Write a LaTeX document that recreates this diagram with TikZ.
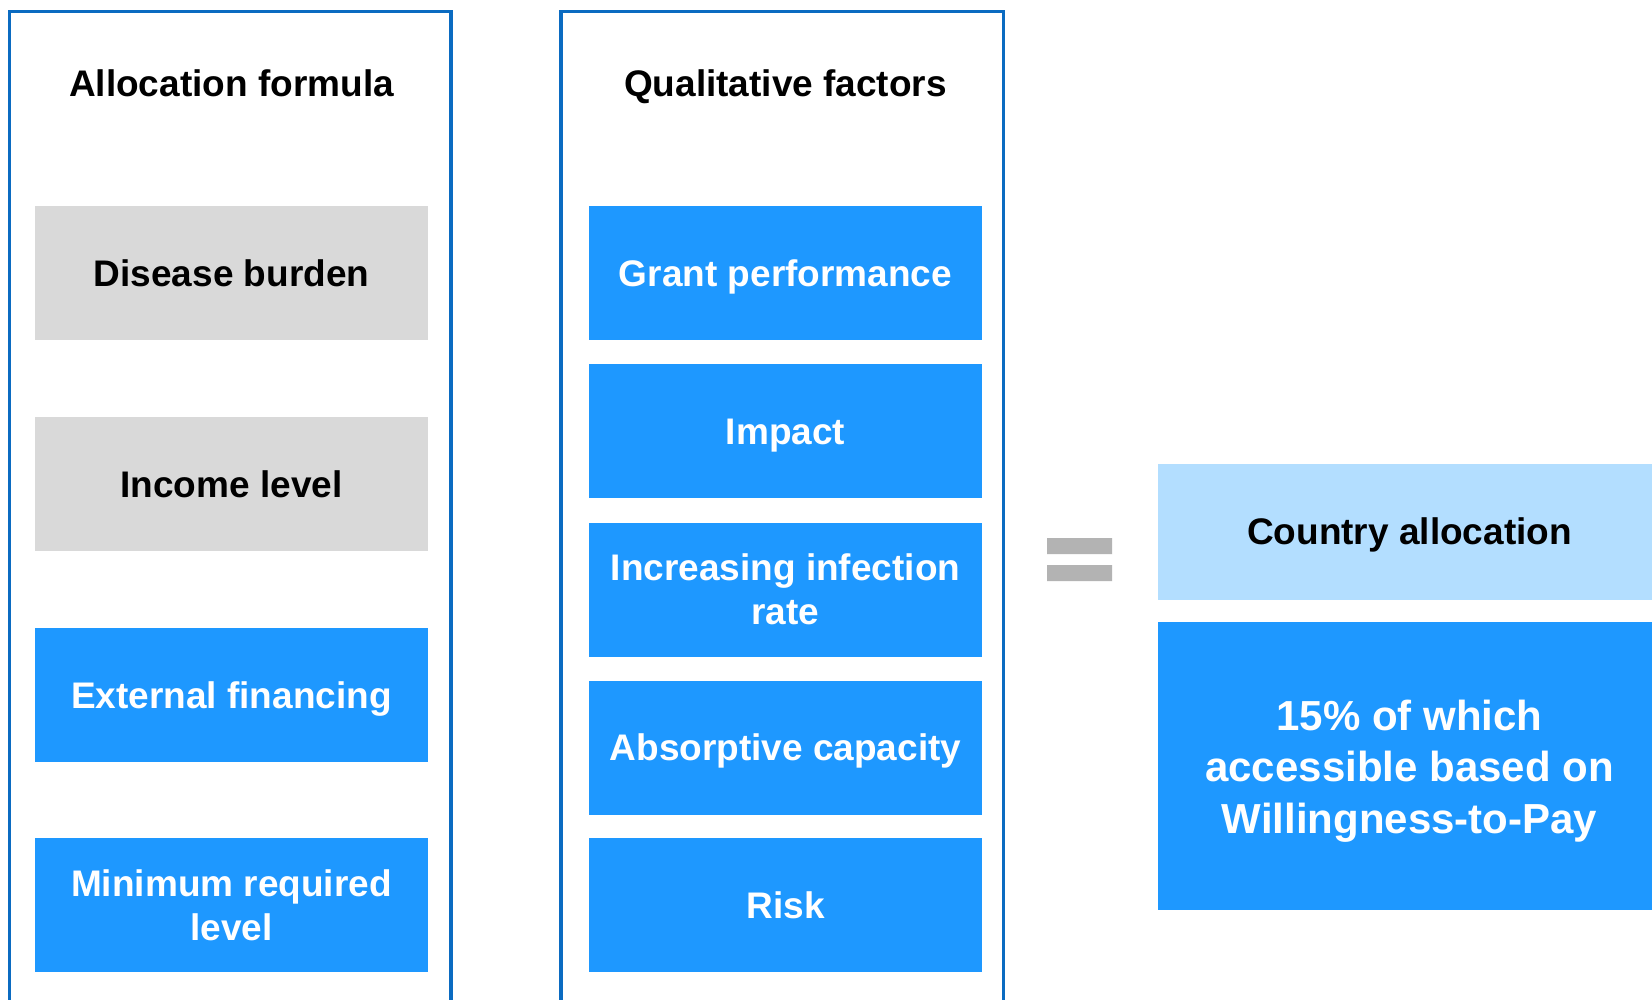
\documentclass[tikz,border=0pt]{standalone}
\usepackage{fontspec}
\setmainfont{Liberation Sans}
\usetikzlibrary{calc}

\definecolor{frameblue}{HTML}{0B6BC1}
\definecolor{boxblue}{HTML}{1E98FF}
\definecolor{paleblue}{HTML}{B3DEFF}
\definecolor{boxgray}{HTML}{D9D9D9}
\definecolor{eqgray}{HTML}{B3B3B3}

\begin{document}
\begin{tikzpicture}[x=1pt,y=-1pt,
  box/.style={minimum width=393pt,minimum height=134pt,inner sep=0pt,align=center,font=\fontsize{37}{44}\selectfont\bfseries},
  graybox/.style={box,fill=boxgray,text=black},
  bluebox/.style={box,fill=boxblue,text=white},
  oneline/.style={text height=26.5pt,text depth=0pt},
  head/.style={anchor=base,font=\fontsize{37}{44}\selectfont\bfseries}]
\useasboundingbox (0,0) rectangle (1652,1000);
\fill[white] (0,0) rectangle (1652,1000);

\draw[frameblue,line width=3.5pt] (9.3,1010)--(9.3,11.6)--(450.8,11.6)--(450.8,1010);
\draw[frameblue,line width=3.5pt] (561,1010)--(561,11.6)--(1003.3,11.6)--(1003.3,1010);

\node[head] (formulahead) at (231.5,96.7) {Allocation formula};
\node[graybox,oneline] (disease) at (231.5,273.4) {Disease burden};
\node[graybox,oneline] (income) at (231.5,484.1) {Income level};
\node[bluebox,oneline] (extfin) at (231.5,694.9) {External financing};
\node[bluebox] (minlevel) at (231.5,905) {Minimum required\\level};

\node[head] (qualhead) at (785.5,96.7) {Qualitative factors};
\node[bluebox,oneline] (grant) at (785.5,273.4) {Grant performance};
\node[bluebox,oneline] (impact) at (785.5,431.4) {Impact};
\node[bluebox] (infection) at (785.5,589.5) {Increasing infection\\rate};
\node[bluebox,oneline] (absorb) at (785.5,747.5) {Absorptive capacity};
\node[bluebox,oneline] (risk) at (785.5,905) {Risk};

\fill[eqgray] (1047,538) rectangle (1112,554) (1047,565) rectangle (1112,581);

\node[box,oneline,minimum width=503pt,minimum height=136pt,fill=paleblue] (country) at (1409.5,531.5) {Country allocation};
\node[bluebox,minimum width=503pt,minimum height=288pt] (wtpbox) at (1409.5,766) {};
\node[align=center,text=white,font=\fontsize{42}{51.7}\selectfont\bfseries,yshift=-5pt] (wtp) at (wtpbox.center) {15\% of which\\accessible based on\\Willingness-to-Pay};
\end{tikzpicture}
\end{document}
